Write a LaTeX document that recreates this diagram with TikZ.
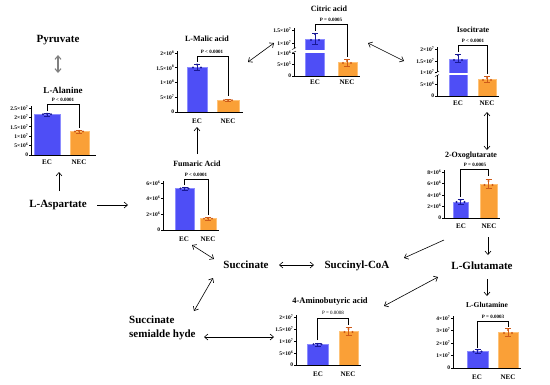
\documentclass[tikz,border=0pt]{standalone}
\usepackage{fontspec}
\setmainfont{Liberation Serif}
\usetikzlibrary{arrows.meta}
\definecolor{ecblue}{RGB}{78,78,246}
\definecolor{eclight}{RGB}{140,140,255}
\definecolor{necor}{RGB}{250,160,55}
\definecolor{necline}{RGB}{255,195,120}
\definecolor{dotblue}{RGB}{25,25,150}
\definecolor{dotor}{RGB}{205,90,25}
\tikzset{
 met/.style={font=\fontsize{11}{14}\selectfont\bfseries, inner sep=0pt},
 ttl/.style={font=\fontsize{8}{9}\selectfont\bfseries, inner sep=0pt},
 tl/.style={font=\fontsize{5.5}{6}\selectfont\bfseries, anchor=east, inner sep=0pt},
 grp/.style={font=\fontsize{7}{8}\selectfont\bfseries, inner sep=0pt},
 ptx/.style={font=\fontsize{5}{6}\selectfont\bfseries, inner sep=0pt},
 axl/.style={line width=0.7pt},
 brl/.style={line width=0.45pt},
 ecb/.style={fill=ecblue, draw=eclight, line width=0.6pt},
 necb/.style={fill=necor, draw=necline, line width=0.6pt},
 arr/.style={-{Straight Barb[length=3.5pt,width=6pt]}, line width=0.6pt},
 darr/.style={{Straight Barb[length=3.5pt,width=6pt]}-{Straight Barb[length=3.5pt,width=6pt]}, line width=0.6pt},
}
\newcommand\ytk[4]{\draw[axl] (#1,#2) -- (#1-2,#2); \node[tl] (#4) at (#1-2.6,#2) {#3};}
\newcommand\erb[4]{\draw[#4,line width=0.5pt] (#1,#2) -- (#1,#3) (#1-3,#2) -- (#1+3,#2) (#1-3,#3) -- (#1+3,#3);}
\newcommand\dts[4]{\fill[#4] (#1-4,#2) circle (1.1) (#1,#3) circle (1.1) (#1+4,#2) circle (1.1);}
\newcommand\tn[2]{#1×10\textsuperscript{#2}}
\begin{document}
\begin{tikzpicture}[x=1pt,y=-1pt]
\useasboundingbox (0,0) rectangle (550,384);
\fill[white] (0,0) rectangle (550,384);

% ---------- metabolites ----------
\node[met] (pyr) at (58,40) {Pyruvate};
\node[met] (asp) at (58,205) {L-Aspartate};
\node[met] (suc) at (246,265) {Succinate};
\node[met] (sca) at (357,266) {Succinyl-CoA};
\node[met] (glu) at (482,266) {L-Glutamate};
\node[met, align=left, anchor=west] (ssa) at (129,328) {Succinate\\semialde hyde};

% ---------- L-Alanine ----------
\node[ttl, font=\fontsize{9}{10}\selectfont\bfseries] (tAla) at (63,90) {L-Alanine};
\draw[ecb] (34,155) rectangle (60,114.6);
\draw[necb] (70,155) rectangle (89,131.5);
\draw[axl] (31,106) -- (31,155) -- (96,155);
\ytk{31}{155}{0}{a0}
\ytk{31}{145.6}{\tn{5}{6}}{a1}
\ytk{31}{136.2}{\tn{1}{7}}{a2}
\ytk{31}{126.8}{\tn{1.5}{7}}{a3}
\ytk{31}{117.4}{\tn{2}{7}}{a4}
\ytk{31}{108}{\tn{2.5}{7}}{a5}
\erb{47}{113}{116}{dotblue}
\dts{47}{114.3}{113.8}{dotblue}
\erb{79}{130}{133}{dotor}
\dts{79}{131.5}{131}{dotor}
\node[grp] (aEC) at (47,162) {EC};
\node[grp] (aNEC) at (79,162) {NEC};
\draw[brl] (47,111) -- (47,104) -- (79,104) -- (79,128);
\node[ptx] (aP) at (63,100) {P < 0.0001};

% ---------- L-Malic acid ----------
\begin{scope}[shift={(-3,0)}]
\node[ttl] (tMal) at (210,39) {L-Malic acid};
\draw[ecb] (190,112) rectangle (210,67.2);
\draw[necb] (220,112) rectangle (242,100.2);
\draw[axl] (180,51) -- (180,112) -- (246,112);
\ytk{180}{112}{0}{b0}
\ytk{180}{97.25}{\tn{5}{7}}{b1}
\ytk{180}{82.5}{\tn{1}{8}}{b2}
\ytk{180}{67.75}{\tn{1.5}{8}}{b3}
\ytk{180}{53}{\tn{2}{8}}{b4}
\erb{200}{64}{70}{dotblue}
\dts{200}{67.5}{64.5}{dotblue}
\erb{231}{99}{101.5}{dotor}
\dts{231}{100.2}{100}{dotor}
\node[grp] (bEC) at (200,121) {EC};
\node[grp] (bNEC) at (231,121) {NEC};
\draw[brl] (200,62) -- (200,56) -- (231,56) -- (231,96);
\node[ptx] (bP) at (215,52) {P < 0.0001};
\end{scope}

% ---------- Citric acid ----------
\begin{scope}[shift={(-18,0)}]
\node[ttl] (tCit) at (347,9) {Citric acid};
\draw[ecb] (323,76) rectangle (342,39);
\fill[white] (322,49.5) rectangle (343,52.5);
\draw[necb] (356,76) rectangle (375,62);
\draw[axl] (312,28) -- (312,48);
\draw[axl] (312,52.5) -- (312,76) -- (378,76);
\draw[brl] (310,49.5) -- (314,47.5) (310,53) -- (314,51);
\ytk{312}{76}{0}{c0}
\ytk{312}{64}{\tn{5}{5}}{c1}
\ytk{312}{53}{\tn{1}{6}}{c2}
\ytk{312}{43}{\tn{1}{7}}{c3}
\ytk{312}{30}{\tn{1.5}{7}}{c4}
\erb{333}{33}{44}{dotblue}
\dts{333}{40}{34}{dotblue}
\erb{365}{59}{66}{dotor}
\dts{365}{63}{61}{dotor}
\node[grp] (cEC) at (333,82) {EC};
\node[grp] (cNEC) at (365,82) {NEC};
\draw[brl] (333,31) -- (333,24) -- (365,24) -- (365,57);
\node[ptx] (cP) at (349,20) {P = 0.0005};
\end{scope}

% ---------- Isocitrate ----------
\begin{scope}[shift={(-16,0)}]
\node[ttl] (tIso) at (489,30) {Isocitrate};
\draw[ecb] (465,96) rectangle (483,59);
\fill[white] (464,72.5) rectangle (484,75);
\draw[necb] (494,96) rectangle (512,79);
\draw[axl] (453,47) -- (453,71.5);
\draw[axl] (453,75) -- (453,96) -- (515,96);
\draw[brl] (451,73) -- (455,71) (451,76.5) -- (455,74.5);
\ytk{453}{96}{0}{d0}
\ytk{453}{84}{\tn{5}{6}}{d1}
\ytk{453}{72}{\tn{1}{7}}{d2}
\ytk{453}{61}{\tn{1.5}{7}}{d3}
\ytk{453}{49}{\tn{2}{7}}{d4}
\erb{474}{54}{62}{dotblue}
\dts{474}{60}{55}{dotblue}
\erb{503}{76}{82}{dotor}
\dts{503}{80}{78}{dotor}
\node[grp] (dEC) at (474,103) {EC};
\node[grp] (dNEC) at (503,103) {NEC};
\draw[brl] (474,52) -- (474,45) -- (503,45) -- (503,74);
\node[ptx] (dP) at (489,41) {P < 0.0001};
\end{scope}

% ---------- Fumaric Acid ----------
\node[ttl] (tFum) at (197,164) {Fumaric Acid};
\draw[ecb] (175,230) rectangle (194,188.5);
\draw[necb] (200,230) rectangle (216,218.6);
\draw[axl] (163,181) -- (163,230) -- (219,230);
\ytk{163}{230}{0}{e0}
\ytk{163}{214.3}{\tn{2}{6}}{e1}
\ytk{163}{198.7}{\tn{4}{6}}{e2}
\ytk{163}{183}{\tn{6}{6}}{e3}
\erb{184.5}{187}{190}{dotblue}
\dts{184.5}{188.5}{188}{dotblue}
\erb{208}{217}{220}{dotor}
\dts{208}{218.6}{218.2}{dotor}
\node[grp] (eEC) at (184,239) {EC};
\node[grp] (eNEC) at (208,239) {NEC};
\draw[brl] (184.5,185) -- (184.5,179) -- (208,179) -- (208,215);
\node[ptx] (eP) at (196,175) {P < 0.0001};

% ---------- 2-Oxoglutarate ----------
\begin{scope}[shift={(-16,0)}]
\node[ttl] (tOxo) at (487,156) {2-Oxoglutarate};
\draw[ecb] (469,218) rectangle (484,201.9);
\draw[necb] (496,218) rectangle (513,184.1);
\draw[axl] (460,170) -- (460,218) -- (516,218);
\ytk{460}{218}{0}{f0}
\ytk{460}{206.5}{\tn{2}{6}}{f1}
\ytk{460}{195}{\tn{4}{6}}{f2}
\ytk{460}{183.5}{\tn{6}{6}}{f3}
\ytk{460}{172}{\tn{8}{6}}{f4}
\erb{476.5}{199}{204}{dotblue}
\dts{476.5}{202}{200}{dotblue}
\erb{504.5}{179}{188}{dotor}
\dts{504.5}{185}{181}{dotor}
\node[grp] (fEC) at (477,226) {EC};
\node[grp] (fNEC) at (505,226) {NEC};
\draw[brl] (476.5,197) -- (476.5,169) -- (504.5,169) -- (504.5,176);
\node[ptx] (fP) at (491,165) {P = 0.0005};
\end{scope}

% ---------- 4-Aminobutyric acid ----------
\begin{scope}[shift={(-5,0)}]
\node[ttl, font=\fontsize{8.5}{9}\selectfont\bfseries] (tGab) at (335,301) {4-Aminobutyric acid};
\draw[ecb] (312,365) rectangle (333,344.1);
\draw[necb] (344,365) rectangle (363,331.4);
\draw[axl] (301,315) -- (301,365) -- (366,365);
\ytk{301}{365}{0}{g0}
\ytk{301}{353}{\tn{5}{6}}{g1}
\ytk{301}{341}{\tn{1}{7}}{g2}
\ytk{301}{329}{\tn{1.5}{7}}{g3}
\ytk{301}{317}{\tn{2}{7}}{g4}
\erb{322.5}{343}{346}{dotblue}
\dts{322.5}{344.3}{344}{dotblue}
\erb{353.5}{327}{335}{dotor}
\dts{353.5}{332}{329}{dotor}
\node[grp] (gEC) at (323,374) {EC};
\node[grp] (gNEC) at (353,374) {NEC};
\draw[brl] (322.5,340) -- (322.5,318) -- (353.5,318) -- (353.5,325);
\node[ptx, font=\fontsize{5}{6}\selectfont] (gP) at (338,313) {P = 0.0008};
\end{scope}

% ---------- L-Glutamine ----------
\begin{scope}[shift={(-16,0)}]
\node[ttl, font=\fontsize{7.5}{9}\selectfont\bfseries] (tGln) at (503,305) {L-Glutamine};
\draw[ecb] (483,368) rectangle (504,351.1);
\draw[necb] (514,368) rectangle (534,332.4);
\draw[axl] (469,316) -- (469,368) -- (537,368);
\ytk{469}{368}{0}{h0}
\ytk{469}{355.5}{\tn{1}{7}}{h1}
\ytk{469}{343}{\tn{2}{7}}{h2}
\ytk{469}{330.5}{\tn{3}{7}}{h3}
\ytk{469}{318}{\tn{4}{7}}{h4}
\erb{493.5}{349}{353}{dotblue}
\dts{493.5}{351.5}{350}{dotblue}
\erb{524}{328}{336}{dotor}
\dts{524}{333}{330}{dotor}
\node[grp] (hEC) at (493,377) {EC};
\node[grp] (hNEC) at (524,377) {NEC};
\draw[brl] (493.5,348) -- (493.5,321) -- (524,321) -- (524,327);
\node[ptx] (hP) at (509,317) {P = 0.0003};
\end{scope}

% ---------- connectors ----------
\coordinate (p1a) at (58,55);   \coordinate (p1b) at (58,73);
\coordinate (p2a) at (59,191);  \coordinate (p2b) at (59,172);
\coordinate (p3a) at (97,205);  \coordinate (p3b) at (128,205);
\coordinate (p4a) at (197,154); \coordinate (p4b) at (197,127);
\coordinate (p5a) at (248,62);  \coordinate (p5b) at (274,43);
\coordinate (p6a) at (368,43);  \coordinate (p6b) at (404,61);
\coordinate (p7a) at (487,112); \coordinate (p7b) at (487,150);
\coordinate (p8a) at (488,237); \coordinate (p8b) at (488,255);
\coordinate (p9a) at (444,240); \coordinate (p9b) at (404,258);
\coordinate (p10a) at (192,245); \coordinate (p10b) at (214,259);
\coordinate (p11a) at (279,265); \coordinate (p11b) at (314,265);
\coordinate (p12a) at (194,311); \coordinate (p12b) at (213,278);
\coordinate (p13a) at (204,337); \coordinate (p13b) at (274,337);
\coordinate (p14a) at (384,306); \coordinate (p14b) at (438,277);
\coordinate (p15a) at (487,279); \coordinate (p15b) at (487,296);

\draw[darr, gray, line width=1.1pt] (p1a) -- (p1b);
\draw[arr] (p2a) -- (p2b);
\draw[arr] (p3a) -- (p3b);
\draw[arr] (p4a) -- (p4b);
\draw[darr] (p5a) -- (p5b);
\draw[darr] (p6a) -- (p6b);
\draw[darr] (p7a) -- (p7b);
\draw[arr] (p8a) -- (p8b);
\draw[arr] (p9a) -- (p9b);
\draw[darr] (p10a) -- (p10b);
\draw[darr] (p11a) -- (p11b);
\draw[darr] (p12a) -- (p12b);
\draw[darr] (p13a) -- (p13b);
\draw[darr] (p14a) -- (p14b);
\draw[arr] (p15a) -- (p15b);
\end{tikzpicture}
\end{document}
